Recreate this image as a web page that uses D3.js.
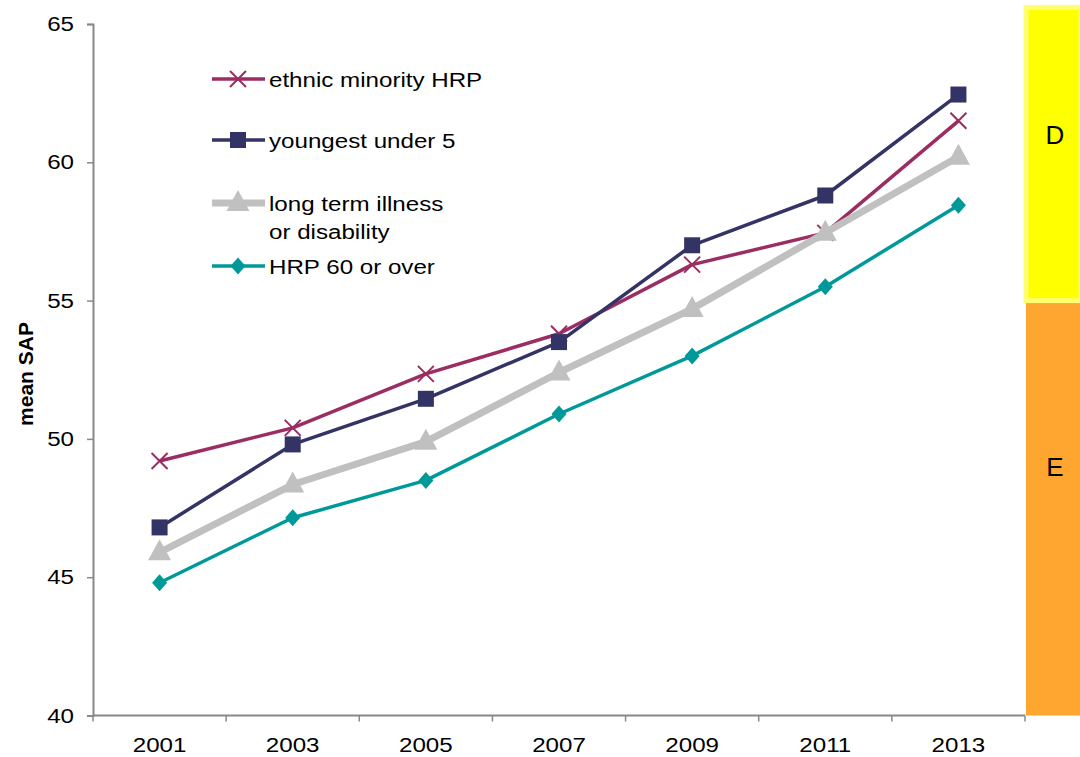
<!DOCTYPE html>
<html>
<head>
<meta charset="utf-8">
<script src="https://cdn.jsdelivr.net/npm/d3@7"></script>
<style>
  body { margin: 0; background: #fff; }
  svg { display: block; font-family: "Liberation Sans", Arial, sans-serif; }
</style>
</head>
<body>
<svg width="1080" height="757"></svg>
<script>
// data
const years = ["2001", "2003", "2005", "2007", "2009", "2011", "2013"];
const ethnicMinority = [49.2, 50.4, 52.35, 53.8, 56.3, 57.45, 61.5];
const youngestUnder5 = [46.8, 49.8, 51.45, 53.5, 57.0, 58.8, 62.45];
const longTermIllness = [45.9, 48.35, 49.9, 52.4, 54.7, 57.45, 60.2];
const hrp60 = [44.8, 47.15, 48.5, 50.9, 53.0, 55.5, 58.45];
const yTicks = [40, 45, 50, 55, 60, 65];
// SAP rating bands shown at the right
const bands = [
  { label: "E", from: 40, to: 55, labelAt: 49.0 },
  { label: "D", from: 55, to: 65.6, labelAt: 61.0 }
];

const series = [
  { name: ["ethnic minority HRP"], values: ethnicMinority, color: "#9b2d62", width: 3.5, marker: "cross" },
  { name: ["youngest under 5"], values: youngestUnder5, color: "#333366", width: 3.5, marker: "square" },
  { name: ["long term illness", "or disability"], values: longTermIllness, color: "#c0c0c0", width: 7, marker: "triangle" },
  { name: ["HRP 60 or over"], values: hrp60, color: "#009999", width: 3.5, marker: "diamond" }
];

const svg = d3.select("svg");
const mLeft = 93, mRight = 1025, mTop = 24, mBottom = 715.5;
// the original text is a little wider than Liberation Sans
const stretch = 1.15;
const fontSize = 21;

const x = d3.scaleBand().domain(years).range([mLeft, mRight]);
const y = d3.scaleLinear().domain([40, 65]).range([mBottom, mTop]);

// places a text at (px,py) stretched horizontally
function label(parent, px, py, txt, anchor) {
  return parent.append("text")
    .attr("transform", `translate(${px},${py}) scale(${stretch},1)`)
    .attr("text-anchor", anchor || "start")
    .attr("font-size", fontSize)
    .text(txt);
}

// rating bands
const bandG = svg.append("g");
bandG.selectAll("rect")
  .data(bands)
  .enter()
  .append("rect")
  .attr("x", mRight + 1)
  .attr("width", 1080 - mRight)
  .attr("y", (d) => y(d.to))
  .attr("height", (d) => y(d.from) - y(d.to))
  .attr("fill", (d) => (d.label === "D" ? "#ffff00" : "#ffa630"))
  .attr("stroke", (d) => (d.label === "D" ? "#ffff70" : "none"))
  .attr("stroke-width", 5);
bandG.selectAll("text")
  .data(bands)
  .enter()
  .append("text")
  .attr("x", 1055)
  .attr("y", (d) => y(d.labelAt))
  .attr("dy", "0.35em")
  .attr("text-anchor", "middle")
  .attr("font-size", 26)
  .text((d) => d.label);

// y axis
const yAxis = svg.append("g")
  .attr("transform", `translate(${mLeft},0)`)
  .call(d3.axisLeft(y).tickValues(yTicks).tickSize(6).tickFormat(() => ""));
yAxis.select(".domain").attr("stroke", "#888").attr("stroke-width", 2);
yAxis.selectAll(".tick line").attr("stroke", "#888").attr("stroke-width", 1.5);
yTicks.forEach((t) => {
  label(svg, mLeft - 19, y(t) + 7, String(t), "end");
});

// x axis, ticks sit between categories
const xAxis = svg.append("g").attr("transform", `translate(0,${mBottom})`);
xAxis.append("line")
  .attr("x1", mLeft).attr("x2", mRight)
  .attr("stroke", "#888").attr("stroke-width", 2);
const bounds = years.map((d) => x(d)).concat([mRight]);
xAxis.selectAll(".xtick")
  .data(bounds)
  .enter()
  .append("line")
  .attr("x1", (d) => d).attr("x2", (d) => d)
  .attr("y1", 0).attr("y2", 6)
  .attr("stroke", "#888").attr("stroke-width", 1.5);
years.forEach((yr) => {
  label(xAxis, x(yr) + x.bandwidth() / 2, 36, yr, "middle");
});

// axis title
svg.append("text")
  .attr("transform", "translate(33,374) rotate(-90)")
  .attr("text-anchor", "middle")
  .attr("font-size", 21)
  .attr("font-weight", "bold")
  .text("mean SAP");

function drawMarker(g, type, color) {
  if (type === "cross") {
    g.append("path").attr("d", "M-8,-8L8,8M-8,8L8,-8")
      .attr("stroke", color).attr("stroke-width", 2).attr("fill", "none");
  } else if (type === "square") {
    g.append("rect").attr("x", -8).attr("y", -8).attr("width", 16).attr("height", 16)
      .attr("fill", color);
  } else if (type === "triangle") {
    g.append("path").attr("d", "M0,-13L11.5,8L-11.5,8Z").attr("fill", color);
  } else {
    g.append("path").attr("d", "M0,-8.5L7.5,0L0,8.5L-7.5,0Z").attr("fill", color);
  }
}

const line = d3.line()
  .x((d, i) => x(years[i]) + x.bandwidth() / 2)
  .y((d) => y(d));

series.forEach((s) => {
  svg.append("path")
    .datum(s.values)
    .attr("d", line)
    .attr("fill", "none")
    .attr("stroke", s.color)
    .attr("stroke-width", s.width)
    .attr("stroke-linejoin", "round");
  s.values.forEach((v, i) => {
    const g = svg.append("g")
      .attr("transform", `translate(${x(years[i]) + x.bandwidth() / 2},${y(v)})`);
    drawMarker(g, s.marker, s.color);
  });
});

// legend
const legendY = [79, 140, 203, 266];
series.forEach((s, i) => {
  const g = svg.append("g").attr("transform", `translate(212,${legendY[i]})`);
  g.append("line").attr("x1", 0).attr("x2", 53)
    .attr("stroke", s.color).attr("stroke-width", s.width);
  const m = g.append("g").attr("transform", "translate(26,0)");
  drawMarker(m, s.marker, s.color);
  s.name.forEach((t, j) => {
    label(g, 57, j * 28 + 7.5, t);
  });
});
</script>
</body>
</html>
